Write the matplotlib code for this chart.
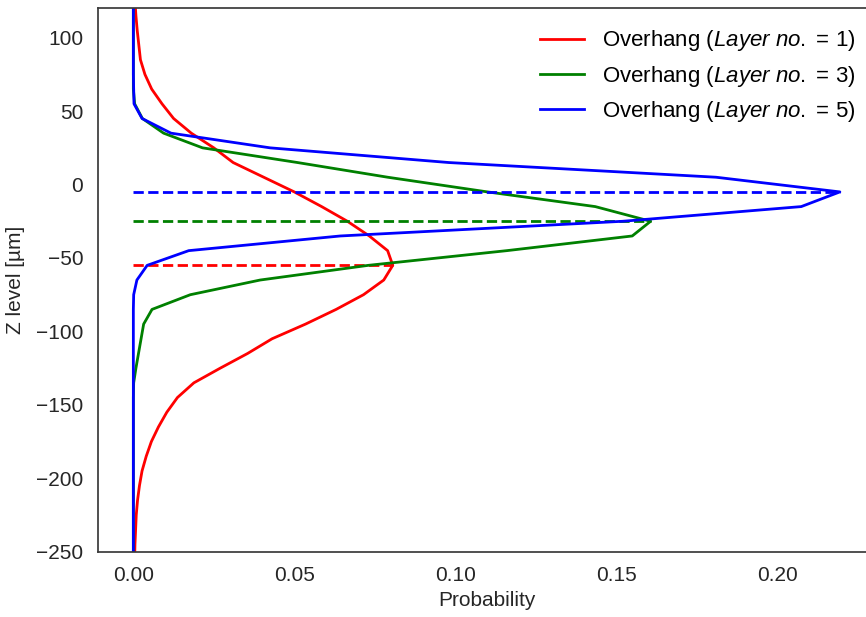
import numpy as np
import matplotlib
matplotlib.use('Agg')
import matplotlib.pyplot as plt

# z levels [um] and probabilities
z = [125, 115, 105, 95, 85, 75, 65, 55, 45, 35, 25, 15, 5, -5, -15, -25, -35,
     -45, -55, -65, -75, -85, -95, -105, -115, -125, -135, -145, -155, -165,
     -175, -185, -195, -205, -215, -225, -235, -245, -255]

p_layer1 = [0.0005, 0.0008, 0.0012, 0.0017, 0.0022, 0.0036, 0.0057, 0.0089,
            0.0125, 0.0180, 0.0250, 0.0310, 0.0405, 0.0500, 0.0585, 0.0665,
            0.0733, 0.0790, 0.0806, 0.0778, 0.0715, 0.0630, 0.0535, 0.0431,
            0.0355, 0.0270, 0.0188, 0.0137, 0.0104, 0.0078, 0.0056, 0.0040,
            0.0027, 0.0019, 0.0013, 0.0009, 0.0007, 0.0005, 0.0004]

p_layer3 = [0, 0, 0, 0, 0, 0, 0, 0.0004, 0.0028, 0.0094, 0.0215, 0.0510,
            0.0790, 0.1100, 0.1435, 0.1607, 0.1550, 0.1160, 0.0730, 0.0394,
            0.0177, 0.0058, 0.0032, 0.0024, 0.0016, 0.0008, 0.0001, 0, 0, 0,
            0, 0, 0, 0, 0, 0, 0, 0, 0]

p_layer5 = [0, 0, 0, 0, 0, 0, 0.0001, 0.0002, 0.0027, 0.0117, 0.0425, 0.0980,
            0.1810, 0.2195, 0.2075, 0.1520, 0.0643, 0.0172, 0.0043, 0.0011,
            0.0001, 0, 0, 0, 0, 0, 0, 0, 0, 0, 0, 0, 0, 0, 0, 0, 0, 0, 0]

layers = [1, 3, 5]
colors = ['red', 'green', 'blue']

plt.rcParams['font.family'] = ['Liberation Sans', 'DejaVu Sans']
plt.rcParams['mathtext.fontset'] = 'custom'
plt.rcParams['mathtext.rm'] = 'Liberation Sans'
plt.rcParams['mathtext.it'] = 'Liberation Sans:italic'

fig = plt.figure(figsize=(8.66, 6.17), dpi=100)
ax = fig.add_axes([0.1131, 0.1058, 0.8976, 0.8807])

for p, n, c in zip([p_layer1, p_layer3, p_layer5], layers, colors):
    ax.plot(p, z, color=c, lw=2,
            label=r'Overhang ($\it{Layer\ no.}$ = %d)' % n)
    i = int(np.argmax(p))
    ax.hlines(z[i], 0, p[i], colors=c, linestyles='--', lw=2)

ax.set_xlim(-0.011, 0.2305)
ax.set_ylim(-250, 120)
ax.set_xticks([0.0, 0.05, 0.10, 0.15, 0.20])
ax.set_yticks([-250, -200, -150, -100, -50, 0, 50, 100])
ax.xaxis.set_major_formatter(matplotlib.ticker.FormatStrFormatter('%.2f'))

txt = '#262626'
ax.tick_params(axis='both', length=0, pad=10.5, labelsize=15, colors=txt)
ax.set_xlabel('Probability', fontsize=15, color=txt, labelpad=4)
ax.set_ylabel('Z level [µm]', fontsize=15, color=txt, labelpad=8)
for s in ax.spines.values():
    s.set_color('#3a3a3a')
    s.set_linewidth(1.25)

ax.legend(loc='upper right', frameon=False, fontsize=16,
          handlelength=2.0, labelspacing=0.46)

fig.savefig('out.png', dpi=100)
